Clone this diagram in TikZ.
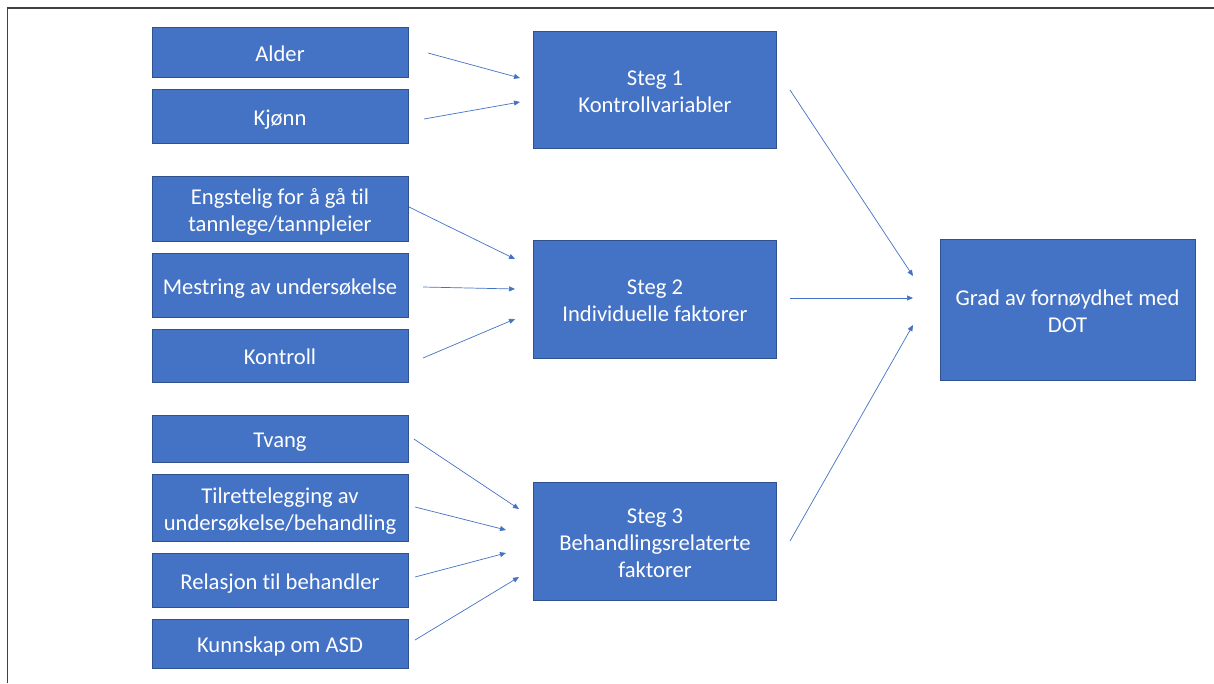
\documentclass[tikz,border=0pt]{standalone}
\usepackage{fontspec}
\setmainfont{Carlito}[Ligatures=NoCommon]
\usetikzlibrary{arrows.meta}
\definecolor{boxfill}{HTML}{4472C4}
\definecolor{boxline}{HTML}{2F528F}
\definecolor{arrowc}{HTML}{4472C4}
\definecolor{framec}{HTML}{404040}
\newcommand{\lstrut}{\rule[-4.2pt]{0pt}{26.8pt}}
\begin{document}
\begin{tikzpicture}[x=1pt,y=-1pt,
  box/.style={draw=boxline, fill=boxfill, line width=0.8pt, text=white, align=center,
    inner sep=0pt, font=\fontsize{22.6}{27}\selectfont},
  lbox/.style={box, minimum width=256pt},
  mbox/.style={box, minimum width=243pt, minimum height=117pt},
  arr/.style={draw=arrowc, line width=0.7pt, -{Triangle[length=6pt,width=5pt]}}]
\useasboundingbox (0,0) rectangle (1214,683);
\fill[white] (0,0) rectangle (1214,683);
\draw[framec, line width=1.5pt] (7.5,683) -- (7.5,8) -- (1214,8);
% left column
\node[lbox, minimum height=50pt] (alder) at (280,52) {\lstrut Alder};
\node[lbox, minimum height=54pt] (kjonn) at (280,116) {\lstrut Kjønn};
\node[lbox, minimum height=65pt] (eng) at (280,208.5) {\lstrut Engstelig for å gå til\\\lstrut tannlege/tannpleier};
\node[lbox, minimum height=64pt] (mest) at (280,285) {\lstrut Mestring av undersøkelse};
\node[lbox, minimum height=53pt] (kontr) at (280,355.5) {\lstrut Kontroll};
\node[lbox, minimum height=47pt] (tvang) at (280,438.5) {\lstrut Tvang};
\node[lbox, minimum height=67pt] (tilr) at (280,507.5) {\lstrut Tilrettelegging av\\\lstrut undersøkelse/behandling};
\node[lbox, minimum height=54pt] (rel) at (280,580) {\lstrut Relasjon til behandler};
\node[lbox, minimum height=49pt] (kunn) at (280,643.5) {\lstrut Kunnskap om ASD};
% middle column
\node[mbox] (s1) at (655,89.5) {\lstrut Steg 1\\\lstrut Kontrollvariabler};
\node[mbox, minimum height=118pt] (s2) at (655,299) {\lstrut Steg 2\\\lstrut Individuelle faktorer};
\node[mbox, minimum height=118pt] (s3) at (655,541) {\lstrut Steg 3\\\lstrut Behandlingsrelaterte\\\lstrut faktorer};
% right
\node[box, minimum width=255pt, minimum height=141pt] (grad) at (1067.5,309.5) {\lstrut Grad av fornøydhet med\\\lstrut DOT};
% arrow ends
\coordinate (a1) at (428,53);  \coordinate (a1e) at (520,78);
\coordinate (a2) at (424,119); \coordinate (a2e) at (520,102);
\coordinate (a3) at (409,207); \coordinate (a3e) at (515,259);
\coordinate (a4) at (423,287); \coordinate (a4e) at (515,289);
\coordinate (a5) at (423,358); \coordinate (a5e) at (515,319);
\coordinate (a6) at (414,439); \coordinate (a6e) at (519,509);
\coordinate (a7) at (415,507); \coordinate (a7e) at (506,530);
\coordinate (a8) at (415,577); \coordinate (a8e) at (506,553);
\coordinate (a9) at (415,640); \coordinate (a9e) at (519,577);
\coordinate (b1) at (790,90);  \coordinate (b1e) at (913,276);
\coordinate (b2) at (790,298); \coordinate (b2e) at (913,298);
\coordinate (b3) at (790,541); \coordinate (b3e) at (913,325);
\foreach \s/\e in {a1/a1e,a2/a2e,a3/a3e,a4/a4e,a5/a5e,a6/a6e,a7/a7e,a8/a8e,a9/a9e,b1/b1e,b2/b2e,b3/b3e}
  \draw[arr] (\s) -- (\e);
\end{tikzpicture}
\end{document}
